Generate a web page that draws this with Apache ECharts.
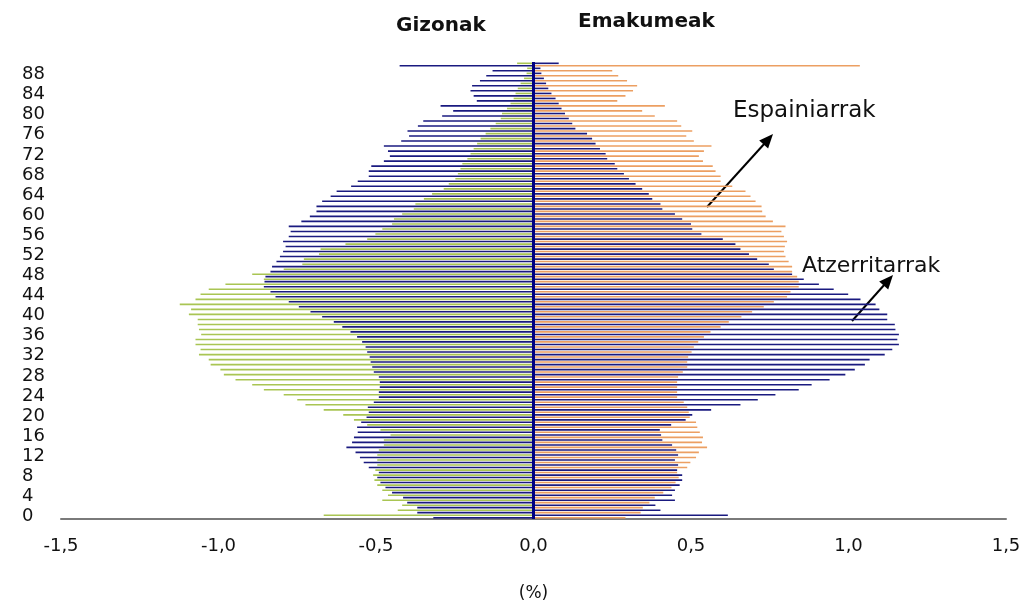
<!DOCTYPE html>
<html>
<head>
<meta charset="utf-8">
<script src="https://cdn.jsdelivr.net/npm/echarts@6/dist/echarts.min.js"></script>
<style>
    html, body { margin: 0; padding: 0; background: #fff; }
    #chart { width: 1025px; height: 607px; }
</style>
</head>
<body>
<div id="chart"></div>
<script>
// adinak 0..90
var ages = [];
for (var a = 0; a <= 90; a++) { ages.push(String(a)); }

// Gizonak - Espainiarrak (%), 0 urtetik 90era
var menSpanish = [-0.318, -0.369, -0.369, -0.401, -0.414, -0.449, -0.47, -0.486, -0.496, -0.491,
    -0.523, -0.539, -0.551, -0.565, -0.594, -0.576, -0.57, -0.558, -0.56, -0.547,
    -0.53, -0.523, -0.526, -0.507, -0.491, -0.491, -0.488, -0.488, -0.491, -0.507,
    -0.512, -0.517, -0.52, -0.528, -0.533, -0.544, -0.56, -0.581, -0.607, -0.634,
    -0.671, -0.708, -0.745, -0.777, -0.819, -0.835, -0.856, -0.854, -0.851, -0.835,
    -0.83, -0.816, -0.805, -0.795, -0.787, -0.795, -0.777, -0.771, -0.777, -0.737,
    -0.71, -0.689, -0.689, -0.671, -0.644, -0.625, -0.579, -0.558, -0.523, -0.523,
    -0.515, -0.475, -0.456, -0.462, -0.475, -0.42, -0.395, -0.40, -0.367, -0.35,
    -0.29, -0.255, -0.295, -0.18, -0.19, -0.2, -0.195, -0.17, -0.15, -0.13,
    -0.425];

// Gizonak - Atzerritarrak (%)
var menForeign = [-0.666, -0.431, -0.417, -0.48, -0.462, -0.48, -0.496, -0.505, -0.509, -0.502,
    -0.496, -0.496, -0.496, -0.491, -0.475, -0.475, -0.454, -0.486, -0.528, -0.57,
    -0.604, -0.666, -0.724, -0.75, -0.793, -0.856, -0.893, -0.946, -0.983, -0.994,
    -1.025, -1.031, -1.062, -1.057, -1.073, -1.073, -1.055, -1.062, -1.066, -1.066,
    -1.094, -1.087, -1.123, -1.073, -1.057, -1.031, -0.978, -0.856, -0.893, -0.793,
    -0.734, -0.729, -0.681, -0.676, -0.597, -0.528, -0.502, -0.48, -0.449, -0.443,
    -0.417, -0.38, -0.375, -0.348, -0.322, -0.285, -0.269, -0.248, -0.24, -0.232,
    -0.226, -0.21, -0.2, -0.19, -0.179, -0.168, -0.152, -0.137, -0.12, -0.104,
    -0.1, -0.084, -0.073, -0.063, -0.057, -0.05, -0.041, -0.03, -0.022, -0.02,
    -0.052];

// Emakumeak - Espainiarrak (%)
var womenSpanish = [0.292, 0.34, 0.347, 0.368, 0.385, 0.412, 0.438, 0.451, 0.461, 0.456,
    0.488, 0.498, 0.516, 0.525, 0.551, 0.535, 0.538, 0.528, 0.52, 0.516,
    0.496, 0.493, 0.488, 0.477, 0.456, 0.456, 0.456, 0.456, 0.459, 0.474,
    0.488, 0.488, 0.491, 0.502, 0.509, 0.523, 0.541, 0.562, 0.594, 0.62,
    0.66, 0.694, 0.731, 0.763, 0.805, 0.816, 0.842, 0.842, 0.837, 0.821,
    0.821, 0.81, 0.8, 0.795, 0.798, 0.805, 0.795, 0.787, 0.8, 0.76,
    0.737, 0.726, 0.724, 0.705, 0.689, 0.673, 0.631, 0.594, 0.594, 0.578,
    0.569, 0.538, 0.525, 0.541, 0.565, 0.509, 0.485, 0.504, 0.469, 0.456,
    0.385, 0.345, 0.417, 0.266, 0.292, 0.316, 0.329, 0.297, 0.269, 0.25,
    1.036];

// Emakumeak - Atzerritarrak (%)
var womenForeign = [0.617, 0.403, 0.387, 0.449, 0.44, 0.449, 0.464, 0.472, 0.472, 0.456,
    0.459, 0.449, 0.459, 0.453, 0.44, 0.409, 0.405, 0.401, 0.437, 0.483,
    0.504, 0.564, 0.657, 0.712, 0.768, 0.842, 0.883, 0.94, 0.99, 1.02,
    1.052, 1.067, 1.115, 1.139, 1.16, 1.155, 1.16, 1.149, 1.147, 1.123,
    1.123, 1.098, 1.086, 1.038, 0.999, 0.953, 0.906, 0.858, 0.821, 0.763,
    0.747, 0.71, 0.684, 0.657, 0.641, 0.601, 0.533, 0.504, 0.5, 0.472,
    0.449, 0.409, 0.403, 0.377, 0.366, 0.345, 0.324, 0.303, 0.287, 0.266,
    0.258, 0.234, 0.229, 0.211, 0.197, 0.186, 0.17, 0.133, 0.123, 0.112,
    0.1, 0.089, 0.08, 0.07, 0.057, 0.047, 0.04, 0.033, 0.025, 0.022,
    0.08];

var xMin = -1.5, xMax = 1.5, xStep = 0.5;

var navy = "#1a1a80";
var green = "#a9c553";
var orange = "#ec9f62";
var font = "DejaVu Sans";

var myChart = echarts.init(document.getElementById("chart"));

var barW = 1.6;

var option = {
    animation: false,
    backgroundColor: "#fff",
    textStyle: { fontFamily: font, color: "#111" },
    grid: { left: 61, right: 19, top: 62, bottom: 78 },
    xAxis: {
        type: "value",
        min: xMin,
        max: xMax,
        interval: xStep,
        name: "(%)",
        nameLocation: "middle",
        nameGap: 66,
        nameTextStyle: { fontSize: 17, color: "#111", fontFamily: font },
        axisLine: { show: true, lineStyle: { color: "#7a7a7a", width: 2 } },
        axisTick: { show: false },
        splitLine: { show: false },
        axisLabel: {
            fontSize: 18,
            color: "#111",
            margin: 18,
            formatter: function (v) { return v.toFixed(1).replace(".", ","); }
        }
    },
    yAxis: {
        type: "category",
        data: ages,
        axisLine: { show: false },
        axisTick: { show: false },
        splitLine: { show: false },
        axisLabel: {
            interval: 3,
            fontSize: 18,
            color: "#111",
            align: "left",
            margin: 39
        }
    },
    graphic: [
        { type: "text", left: 396, top: 16, style: { text: "Gizonak", font: "bold 20px DejaVu Sans", fill: "#111" } },
        { type: "text", left: 578, top: 12, style: { text: "Emakumeak", font: "bold 20px DejaVu Sans", fill: "#111" } },
        { type: "text", left: 733, top: 100, style: { text: "Espainiarrak", font: "23px DejaVu Sans", fill: "#111" } },
        { type: "text", left: 802, top: 255, style: { text: "Atzerritarrak", font: "22px DejaVu Sans", fill: "#111" } },
        // geziak
        { type: "line", shape: { x1: 707, y1: 207, x2: 765, y2: 143 }, style: { stroke: "#000", lineWidth: 2 } },
        { type: "polygon", shape: { points: [[773, 134], [768.1, 148.4], [759.2, 140.4]] }, style: { fill: "#000" } },
        { type: "line", shape: { x1: 852, y1: 321, x2: 885, y2: 284 }, style: { stroke: "#000", lineWidth: 2 } },
        { type: "polygon", shape: { points: [[893, 275], [888.2, 289.5], [879.2, 281.5]] }, style: { fill: "#000" } }
    ],
    series: [
        {
            name: "Gizonak Atzerritarrak",
            type: "bar",
            stack: "atzerri",
            data: menForeign,
            barWidth: barW,
            barGap: "50%",
            itemStyle: { color: green }
        },
        {
            name: "Emakumeak Atzerritarrak",
            type: "bar",
            stack: "atzerri",
            data: womenForeign,
            barWidth: barW,
            itemStyle: { color: navy }
        },
        {
            name: "Gizonak Espainiarrak",
            type: "bar",
            stack: "espainiar",
            data: menSpanish,
            barWidth: barW,
            barGap: "50%",
            itemStyle: { color: navy }
        },
        {
            name: "Emakumeak Espainiarrak",
            type: "bar",
            stack: "espainiar",
            data: womenSpanish,
            barWidth: barW,
            itemStyle: { color: orange },
            markLine: {
                silent: true,
                symbol: ["none", "none"],
                label: { show: false },
                lineStyle: { color: "#000080", width: 3, type: "solid" },
                data: [{ xAxis: 0 }]
            }
        }
    ]
};
myChart.setOption(option);
</script>
</body>
</html>
